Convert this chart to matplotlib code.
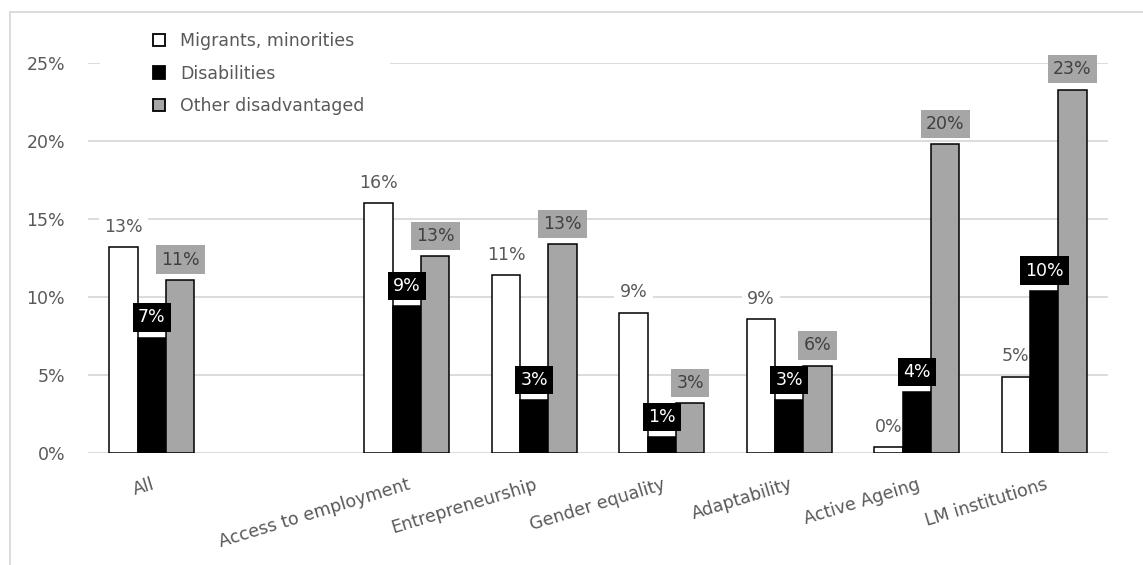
import numpy as np
import matplotlib
matplotlib.use("Agg")
import matplotlib.pyplot as plt
from matplotlib.patches import Patch, Rectangle
from matplotlib.lines import Line2D

# ---- data ----
categories = ["All", "", "Access to employment", "Entrepreneurship",
              "Gender equality", "Adaptability", "Active Ageing", "LM institutions"]
series_names = ["Migrants, minorities", "Disabilities", "Other disadvantaged"]
migrants = [13.2, np.nan, 16.0, 11.4, 9.0, 8.6, 0.4, 4.9]
disabilities = [7.4, np.nan, 9.4, 3.4, 1.0, 3.4, 3.9, 10.4]
other = [11.1, np.nan, 12.6, 13.4, 3.2, 5.6, 19.8, 23.3]
yticks = [0, 5, 10, 15, 20, 25]

# ---- style ----
plt.rcParams['font.family'] = ['DejaVu Sans']
FS = 12.5
TXT = '#595959'
GRID = '#d9d9d9'
W, H = 1143, 565
fig = plt.figure(figsize=(W / 100, H / 100), dpi=100)
ax = fig.add_axes([88 / W, 1 - 453 / H, (1108 - 88) / W, (453 - 63) / H])

x = np.arange(len(categories))
bw = 0.222
fills = ['white', 'black', '#a6a6a6']
label_bg = ['white', 'black', '#a6a6a6']
label_fg = [TXT, 'white', '#404040']
label_z = [2.5, 4, 4]
all_series = [migrants, disabilities, other]

for k, (vals, fc) in enumerate(zip(all_series, fills)):
    xs = x + (k - 1) * bw
    ax.bar(xs, vals, width=bw, color=fc, edgecolor='black', linewidth=1.1, zorder=3)
    for xi, v in zip(xs, vals):
        if np.isnan(v):
            continue
        ax.annotate(f"{v:.0f}%", xy=(xi, v), xytext=(0, 8.1), textcoords='offset points',
                    ha='center', va='bottom', fontsize=FS, color=label_fg[k],
                    bbox=dict(boxstyle='square,pad=0.3', fc=label_bg[k], ec='none'),
                    zorder=label_z[k], annotation_clip=False)

ax.set_xlim(-0.5, len(categories) - 0.5)
ax.set_ylim(0, 25)
ax.set_yticks(yticks)
ax.set_yticklabels([f"{t}%" for t in yticks], fontsize=FS, color=TXT)
ax.set_xticks(x)
ax.set_xticklabels(categories, fontsize=FS, color=TXT, rotation=17,
                   ha='right', va='top', rotation_mode='anchor')
ax.tick_params(axis='y', length=0, pad=16.5)
ax.tick_params(axis='x', length=0, pad=16)
ax.yaxis.grid(True, color=GRID, linewidth=1.3, zorder=0)
ax.set_axisbelow(True)
for s in ax.spines.values():
    s.set_visible(False)

# chart border (top and left)
fig.add_artist(Line2D([10 / W, 1], [1 - 12 / H, 1 - 12 / H], transform=fig.transFigure,
                      color=GRID, linewidth=1.3))
fig.add_artist(Line2D([10 / W, 10 / W], [0, 1 - 12 / H], transform=fig.transFigure,
                      color=GRID, linewidth=1.3))

# white legend area
fig.add_artist(Rectangle((100 / W, 1 - 122 / H), 290 / W, 102 / H, transform=fig.transFigure,
                         facecolor='white', edgecolor='none', zorder=2))

handles = [Patch(facecolor=fc, edgecolor='black', linewidth=1.3) for fc in fills]
leg = fig.legend(handles, series_names, loc='upper left',
                 bbox_to_anchor=(153 / W, 1 - 32 / H), frameon=False, fontsize=FS,
                 borderpad=0, handlelength=0.69, handleheight=0.69,
                 handletextpad=0.86, labelspacing=0.84, borderaxespad=0)
leg.set_zorder(5)
for t in leg.get_texts():
    t.set_color(TXT)

fig.savefig('out.png', dpi=100, facecolor='white')
